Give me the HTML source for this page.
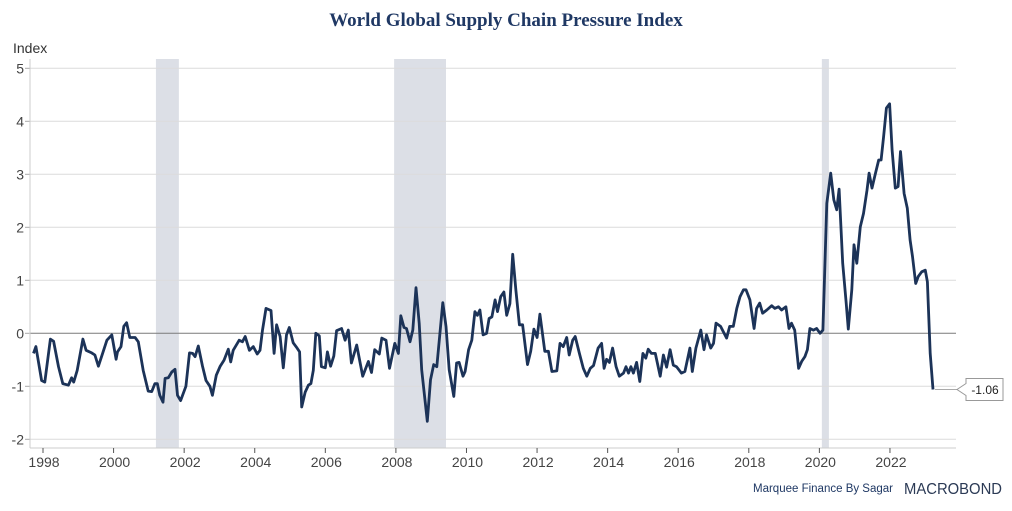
<!DOCTYPE html>
<html><head><meta charset="utf-8">
<style>
html,body{margin:0;padding:0;background:#fff;}
body{width:1012px;height:506px;overflow:hidden;font-family:"Liberation Sans",sans-serif;}
svg text{font-family:"Liberation Sans",sans-serif;}
</style></head>
<body>
<svg id="chart" width="1012" height="506" viewBox="0 0 1012 506" xmlns="http://www.w3.org/2000/svg">
<text x="506" y="26" text-anchor="middle" style="font-family:'Liberation Serif',serif;font-weight:bold;font-size:19px;fill:#1f3864">World Global Supply Chain Pressure Index</text>
<text x="13" y="53" style="font-size:14px;fill:#333">Index</text>
<g id="shade"></g>
<g id="grid"></g>
<g id="axes"></g>
<g id="series"></g>
<g id="label"></g>
<text x="753" y="492" style="font-size:11.5px;fill:#1f3864">Marquee Finance By Sagar</text>
<text x="904" y="494" textLength="98" lengthAdjust="spacingAndGlyphs" style="font-size:16px;fill:#2b3a55">MACROBOND</text>
</svg>
<script>
const dates = [1997.73,1997.80,1997.96,1998.05,1998.21,1998.30,1998.44,1998.56,1998.72,1998.81,1998.87,1998.97,1999.13,1999.22,1999.38,1999.47,1999.57,1999.69,1999.81,1999.95,2000.07,2000.11,2000.21,2000.29,2000.37,2000.46,2000.61,2000.70,2000.84,2000.98,2001.08,2001.17,2001.24,2001.31,2001.40,2001.46,2001.55,2001.65,2001.74,2001.81,2001.90,2002.05,2002.15,2002.24,2002.31,2002.40,2002.52,2002.62,2002.73,2002.80,2002.91,2003.02,2003.13,2003.25,2003.32,2003.39,2003.56,2003.65,2003.73,2003.85,2003.96,2004.07,2004.15,2004.22,2004.32,2004.46,2004.55,2004.62,2004.72,2004.81,2004.90,2004.98,2005.09,2005.20,2005.27,2005.33,2005.43,2005.52,2005.59,2005.66,2005.73,2005.83,2005.89,2006.00,2006.06,2006.15,2006.24,2006.32,2006.46,
2006.56,2006.65,2006.74,2006.89,2007.06,2007.22,2007.31,2007.40,2007.53,2007.60,2007.72,2007.82,2007.97,2008.07,2008.14,2008.23,2008.30,2008.40,2008.48,2008.57,2008.66,2008.73,2008.89,2008.98,2009.07,2009.16,2009.33,2009.42,2009.51,2009.64,2009.72,2009.79,2009.90,2009.96,2010.06,2010.15,2010.24,2010.31,2010.38,2010.47,2010.57,2010.64,2010.72,2010.81,2010.88,2010.97,2011.06,2011.14,2011.23,2011.31,2011.40,2011.50,2011.59,2011.73,2011.82,2011.91,2012.00,2012.08,2012.22,2012.32,2012.42,2012.56,2012.65,2012.74,2012.84,2012.91,2013.01,2013.08,2013.20,2013.31,2013.41,2013.51,2013.60,2013.73,2013.83,2013.90,2013.97,2014.05,2014.14,2014.24,2014.33,2014.45,2014.52,2014.59,2014.66,2014.73,2014.82,2014.91,2015.00,2015.08,2015.15,2015.24,2015.35,2015.49,2015.58,2015.67,2015.77,
2015.86,2015.95,2016.09,2016.19,2016.33,2016.40,2016.50,2016.64,2016.73,2016.80,2016.92,2017.00,2017.07,2017.20,2017.37,2017.46,2017.56,2017.66,2017.75,2017.85,2017.92,2018.03,2018.15,2018.22,2018.31,2018.39,2018.51,2018.65,2018.74,2018.84,2018.93,2019.05,2019.14,2019.21,2019.30,2019.41,2019.50,2019.59,2019.66,2019.73,2019.83,2019.92,2020.02,2020.10,2020.21,2020.32,2020.41,2020.49,2020.56,2020.66,2020.76,2020.82,2020.92,2020.98,2021.06,2021.16,2021.25,2021.35,2021.41,2021.49,2021.58,2021.68,2021.75,2021.82,2021.90,2021.99,2022.06,2022.15,2022.23,2022.30,2022.40,2022.49,2022.57,2022.64,2022.73,2022.80,2022.90,2023.00,2023.06,2023.14,2023.22];
const values = [-0.38,-0.25,-0.89,-0.92,-0.11,-0.15,-0.63,-0.95,-0.98,-0.84,-0.92,-0.70,-0.11,-0.32,-0.37,-0.41,-0.62,-0.38,-0.13,-0.03,-0.49,-0.35,-0.25,0.13,0.20,-0.08,-0.08,-0.16,-0.70,-1.09,-1.10,-0.95,-0.95,-1.17,-1.30,-0.85,-0.84,-0.73,-0.68,-1.17,-1.27,-1.00,-0.37,-0.38,-0.44,-0.24,-0.62,-0.89,-1.00,-1.17,-0.79,-0.62,-0.51,-0.30,-0.54,-0.32,-0.13,-0.16,-0.06,-0.32,-0.25,-0.39,-0.32,0.06,0.47,0.43,-0.38,0.16,-0.06,-0.65,-0.03,0.11,-0.18,-0.28,-0.35,-1.39,-1.11,-0.98,-0.95,-0.70,0.00,-0.05,-0.63,-0.65,-0.35,-0.62,-0.43,0.05,0.09,
-0.13,0.06,-0.56,-0.22,-0.81,-0.53,-0.74,-0.31,-0.39,-0.09,-0.13,-0.66,-0.19,-0.38,0.33,0.11,0.09,-0.16,0.06,0.86,0.19,-0.69,-1.66,-0.88,-0.59,-0.63,0.58,0.13,-0.69,-1.19,-0.56,-0.55,-0.81,-0.72,-0.31,-0.13,0.41,0.34,0.44,-0.03,0.00,0.28,0.31,0.63,0.41,0.69,0.78,0.34,0.56,1.49,0.81,0.16,0.16,-0.59,-0.34,0.08,-0.08,0.36,-0.34,-0.34,-0.72,-0.71,-0.19,-0.25,-0.08,-0.41,-0.13,-0.06,-0.38,-0.66,-0.81,-0.66,-0.61,-0.28,-0.19,-0.66,-0.49,-0.55,-0.28,-0.63,-0.81,-0.75,-0.63,-0.75,-0.63,-0.75,-0.55,-0.91,-0.38,-0.47,-0.30,-0.38,-0.38,-0.81,-0.41,-0.64,-0.31,
-0.60,-0.63,-0.75,-0.72,-0.28,-0.72,-0.28,0.06,-0.31,-0.03,-0.28,-0.19,0.19,0.13,-0.09,0.13,0.13,0.47,0.69,0.82,0.82,0.63,0.09,0.47,0.57,0.38,0.44,0.52,0.47,0.50,0.44,0.50,0.09,0.19,0.06,-0.66,-0.53,-0.44,-0.31,0.09,0.06,0.09,0.00,0.06,2.45,3.02,2.52,2.33,2.72,1.32,0.57,0.08,0.82,1.67,1.32,2.01,2.26,2.70,3.02,2.74,2.99,3.27,3.27,3.71,4.25,4.33,3.46,2.74,2.77,3.43,2.64,2.36,1.76,1.45,0.94,1.07,1.16,1.19,0.97,-0.38,-1.06];
const yTicks = [-2,-1,0,1,2,3,4,5];
const xTicks = [1998,2000,2002,2004,2006,2008,2010,2012,2014,2016,2018,2020,2022];
const recessionStarts = [2001.20,2007.95,2020.07];
const recessionEnds = [2001.85,2009.42,2020.27];

const NS="http://www.w3.org/2000/svg";
const L=30,R=956,T=59,B=448;
const xS=d=>43+(d-1998)*35.29;
const yS=v=>333.3-v*53.0;
function mk(tag,attrs,parent){const e=document.createElementNS(NS,tag);for(const k in attrs)e.setAttribute(k,attrs[k]);parent.appendChild(e);return e;}
const shade=document.getElementById('shade'),grid=document.getElementById('grid'),axes=document.getElementById('axes'),series=document.getElementById('series'),label=document.getElementById('label');
recessionStarts.forEach((s,i)=>{
  const r=mk('rect',{x:xS(s),y:T,width:xS(recessionEnds[i])-xS(s),height:B-T,fill:'#dcdfe6'},shade);
  
  
});
yTicks.forEach(v=>{
  const y=yS(v);
  const g=mk('line',{x1:L,x2:R,y1:y,y2:y,stroke:v===0?'#7a7a7a':'#dcdcdc','stroke-width':1},grid);
  
  
  mk('line',{x1:L-5,x2:L,y1:y,y2:y,stroke:'#aaa'},axes);
  const t=mk('text',{x:24,y:y+5,'text-anchor':'end','font-size':'14',fill:'#444'},axes);
  t.textContent=v;
  
  
});
mk('line',{x1:L,x2:L,y1:T,y2:B,stroke:'#ccc'},axes);
mk('line',{x1:L,x2:R,y1:B,y2:B,stroke:'#ccc'},axes);
xTicks.forEach(yr=>{
  const x=xS(yr);
  mk('line',{x1:x,x2:x,y1:B,y2:B+5,stroke:'#555'},axes);
  const t=mk('text',{x:x+1,y:B+19,'text-anchor':'middle','font-size':'14',fill:'#444'},axes);
  t.textContent=yr;
  
  
});
const pts=dates.map((d,i)=>xS(d).toFixed(1)+','+yS(values[i]).toFixed(1)).join(' ');
const pl=mk('polyline',{points:pts,fill:'none',stroke:'#1c3358','stroke-width':2.8,'stroke-linejoin':'round'},series);


const lx=xS(dates[dates.length-1]),ly=yS(values[values.length-1]);
mk('line',{x1:lx+2,x2:957,y1:ly,y2:ly,stroke:'#aaa'},label);
mk('path',{d:`M957 ${ly} L966 ${ly-6} L966 ${ly-11} L1003 ${ly-11} L1003 ${ly+11} L966 ${ly+11} L966 ${ly+6} Z`,fill:'#fff',stroke:'#999'},label);
const lt=mk('text',{x:985,y:ly+4.5,'text-anchor':'middle','font-size':'12',fill:'#222'},label);
lt.textContent=values[values.length-1].toFixed(2);


</script>
</body></html>
